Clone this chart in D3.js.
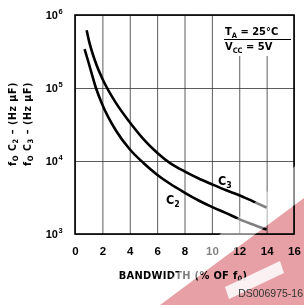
<!DOCTYPE html>
<meta charset="utf-8">
<head>
  <title>Bandwidth vs f0C</title>
</head>
<style>
body { margin: 0; background: #fff; }
svg { display: block; font-family: "Liberation Sans Narrow", "DejaVu Sans Condensed", "Arial Narrow", sans-serif; font-weight: bold; }
.grid line { stroke: #333; stroke-width: 0.8; }
.grid path { display: none; }
.ticks path, .ticks line { display: none; }
</style>
<body>
<svg width="304" height="305"></svg>
<script src="https://cdnjs.cloudflare.com/ajax/libs/d3/7.8.5/d3.min.js"></script>
<script>
// values
var xTicks = [0, 2, 4, 6, 8, 10, 12, 14, 16];
var yTicks = [1e3, 1e4, 1e5, 1e6];
var yExponents = ['3', '4', '5', '6'];

var c2Bandwidth = [0.7, 1, 1.5, 2, 3, 4, 5, 6, 7, 8, 9, 10, 11, 12, 13, 14];
var c2Values = [3.4e5, 2.2e5, 1.04e5, 5.9e4, 2.6e4, 1.45e4, 9.4e3, 6.5e3, 4.8e3, 3.7e3, 2.9e3, 2.35e3, 1.95e3, 1.6e3, 1.35e3, 1.15e3];
var c3Bandwidth = [0.85, 1, 1.5, 2, 3, 4, 5, 6, 7, 8, 9, 10, 11, 12, 13, 14];
var c3Values = [6.2e5, 4.6e5, 2.25e5, 1.34e5, 6.2e4, 3.4e4, 2.0e4, 1.3e4, 9.2e3, 7.2e3, 5.8e3, 4.8e3, 4.0e3, 3.4e3, 2.8e3, 2.3e3];

var plotL = 75, plotR = 294, plotT = 15, plotB = 234;
var svg = d3.select('svg');

var x = d3.scaleLinear().domain([0, 16]).range([plotL, plotR]);
var y = d3.scaleLog().domain([1e3, 1e6]).range([plotB, plotT]);

// grid
svg.append('g').attr('class', 'grid')
  .attr('transform', 'translate(0,' + plotB + ')')
  .call(d3.axisBottom(x).tickValues(xTicks).tickSize(-(plotB - plotT)).tickFormat(''));
svg.append('g').attr('class', 'grid')
  .attr('transform', 'translate(' + plotL + ',0)')
  .call(d3.axisLeft(y).tickValues(yTicks).tickSize(-(plotR - plotL)).tickFormat(''));

// frame
svg.append('rect')
  .attr('x', plotL).attr('y', plotT)
  .attr('width', plotR - plotL).attr('height', plotB - plotT)
  .attr('fill', 'none').attr('stroke', '#000').attr('stroke-width', 1.6);

// x tick labels
var xa = svg.append('g').attr('class', 'ticks')
  .attr('transform', 'translate(0,' + plotB + ')')
  .call(d3.axisBottom(x).tickValues(xTicks).tickSize(0).tickPadding(13));
xa.selectAll('text').attr('font-size', 11.5).attr('font-family', null).attr('fill', '#000');

// y tick labels 10^n
var ya = svg.append('g').attr('class', 'ticks')
  .attr('transform', 'translate(' + plotL + ',0)')
  .call(d3.axisLeft(y).tickValues(yTicks).tickSize(0).tickFormat(''));
ya.selectAll('.tick').each(function(d, i) {
  var t = d3.select(this);
  t.append('text').attr('x', -17).attr('y', 3.5).attr('text-anchor', 'end')
    .attr('font-size', 11).attr('fill', '#000').text('10');
  t.append('text').attr('x', -16.5).attr('y', -1.5).attr('text-anchor', 'start')
    .attr('font-size', 7.5).attr('fill', '#000').text(yExponents[i]);
});

// curves
var line = d3.line()
  .x(function(d) { return x(d[0]); })
  .y(function(d) { return y(d[1]); })
  .curve(d3.curveMonotoneX);

svg.append('path')
  .datum(d3.zip(c2Bandwidth, c2Values))
  .attr('d', line).attr('fill', 'none').attr('stroke', '#000').attr('stroke-width', 2.6);
svg.append('path')
  .datum(d3.zip(c3Bandwidth, c3Values))
  .attr('d', line).attr('fill', 'none').attr('stroke', '#000').attr('stroke-width', 2.6);

// curve labels
function sub(el, main, s, size) {
  el.append('tspan').text(main);
  el.append('tspan').attr('font-size', size * 0.7).attr('dy', 3).text(s);
}
sub(svg.append('text').attr('x', 218).attr('y', 185).attr('font-size', 12.5), 'C', '3', 12.5);
sub(svg.append('text').attr('x', 166).attr('y', 204).attr('font-size', 12.5), 'C', '2', 12.5);

// condition box
svg.append('rect').attr('x', 219).attr('y', 16).attr('width', 74).attr('height', 40).attr('fill', '#fff');
var t1 = svg.append('text').attr('x', 225).attr('y', 35).attr('font-size', 11);
t1.append('tspan').text('T');
t1.append('tspan').attr('font-size', 7.5).attr('dy', 2.5).text('A');
t1.append('tspan').attr('dy', -2.5).text(' = 25°C');
svg.append('line').attr('x1', 224).attr('x2', 291).attr('y1', 39.5).attr('y2', 39.5)
  .attr('stroke', '#000').attr('stroke-width', 1);
var t2 = svg.append('text').attr('x', 225).attr('y', 50).attr('font-size', 11);
t2.append('tspan').text('V');
t2.append('tspan').attr('font-size', 7.5).attr('dy', 2.5).text('CC');
t2.append('tspan').attr('dy', -2.5).text(' = 5V');

// y axis title (two lines)
function yTitle(xpos, n) {
  var t = svg.append('text')
    .attr('transform', 'translate(' + xpos + ',124) rotate(-90)')
    .attr('text-anchor', 'middle').attr('font-size', 10.5).attr('letter-spacing', 0.6);
  t.append('tspan').text('f');
  t.append('tspan').attr('font-size', 7.5).attr('dy', 2).text('O');
  t.append('tspan').attr('dy', -2).text(' C');
  t.append('tspan').attr('font-size', 7.5).attr('dy', 2).text(n);
  t.append('tspan').attr('dy', -2).text(' \u2013 (Hz \u03bcF)');
}
yTitle(16, '2');
yTitle(31, '3');

// watermark band behind the x title's tail
svg.append('polygon').attr('points', '225,287 280,261 284,273 229,299')
  .attr('fill', '#fff');

// x axis title
var xt = svg.append('text').attr('x', 183).attr('y', 279).attr('text-anchor', 'middle')
  .attr('font-size', 11).attr('letter-spacing', 0.3);
xt.append('tspan').text('BANDWIDTH (% OF f');
xt.append('tspan').attr('font-size', 7.5).attr('dy', 2).text('0');
xt.append('tspan').attr('dy', -2).text(')');

// watermark
svg.append('polygon').attr('points', '304,158 304,198 160,305 142,305')
  .attr('fill', '#fff').attr('opacity', 0.5);
svg.append('polygon').attr('points', '304,198 304,305 160,305')
  .attr('fill', '#e7a1a6').style('mix-blend-mode', 'multiply');
svg.append('polygon').attr('points', '225,287 280,261 284,273 229,299')
  .attr('fill', '#fff').attr('opacity', 0.85);

svg.append('text').attr('x', 303).attr('y', 297).attr('text-anchor', 'end')
  .attr('font-family', '"Liberation Sans", Arial, sans-serif').attr('font-weight', 'normal')
  .attr('font-size', 10.5).attr('fill', '#333').text('DS006975-16');
</script>
</body>
